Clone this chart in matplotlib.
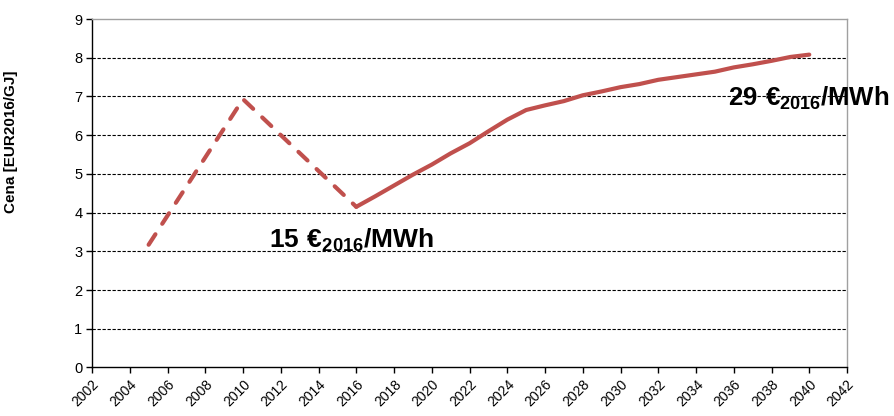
import matplotlib.pyplot as plt
import numpy as np

# historical (dashed) and projected (solid) price, EUR2016/GJ
hist_years = [2005, 2010, 2016]
hist_price = [3.17, 6.93, 4.15]

proj_years = list(range(2016, 2041))
proj_price = [4.15, 4.42, 4.70, 4.98, 5.24, 5.53, 5.79, 6.10, 6.40, 6.65,
              6.77, 6.88, 7.03, 7.13, 7.24, 7.32, 7.43, 7.50, 7.57, 7.64,
              7.75, 7.83, 7.92, 8.02, 8.08]

x_ticks = list(range(2002, 2043, 2))
y_ticks = list(range(0, 10))

plt.rcParams['font.family'] = ['Liberation Sans', 'DejaVu Sans']
plt.rcParams['mathtext.fontset'] = 'custom'
plt.rcParams['mathtext.bf'] = 'Liberation Sans:bold'
plt.rcParams['mathtext.rm'] = 'Liberation Sans:bold'

fig = plt.figure(figsize=(8.95, 4.16), dpi=100)
ax = fig.add_axes([0.1028, 0.1166, 0.8436, 0.8377])

red = '#C0504D'
ax.plot(hist_years, hist_price, color=red, lw=3.0, linestyle=(0, (3, 3)),
        dash_capstyle='round', solid_joinstyle='miter')
ax.plot(proj_years, proj_price, color=red, lw=3.0, solid_capstyle='round')

ax.set_xlim(2002, 2042)
ax.set_ylim(0, 9)
ax.set_xticks(x_ticks)
ax.set_xticklabels([str(t) for t in x_ticks], rotation=45, ha='right',
                   rotation_mode='anchor', fontsize=10)
ax.set_yticks(y_ticks)
ax.set_yticklabels([str(t) for t in y_ticks], fontsize=10.5)
ax.tick_params(direction='out', length=4, width=1, color='black', pad=3)

for v in y_ticks[1:-1]:
    ax.axhline(v, color='black', lw=0.8, linestyle=(0, (3, 1.5)), zorder=0)

ax.spines['left'].set_color('black')
ax.spines['bottom'].set_color('black')
ax.spines['top'].set_color('#A0A0A0')
ax.spines['right'].set_color('#A0A0A0')
for s in ax.spines.values():
    s.set_linewidth(1.0)

ax.set_ylabel('Cena [EUR2016/GJ]', fontsize=11, fontweight='bold')
ax.yaxis.set_label_coords(-0.098, 0.648)

ax.text(2011.4, 3.27, '$\\mathbf{15\\ €_{2016}/MWh}$', fontsize=19,
        ha='left', va='center', clip_on=False)
ax.text(2035.7, 6.95, '$\\mathbf{29\\ €_{2016}/MWh}$', fontsize=18.5,
        ha='left', va='center', clip_on=False)

fig.savefig('out.png', dpi=100)
